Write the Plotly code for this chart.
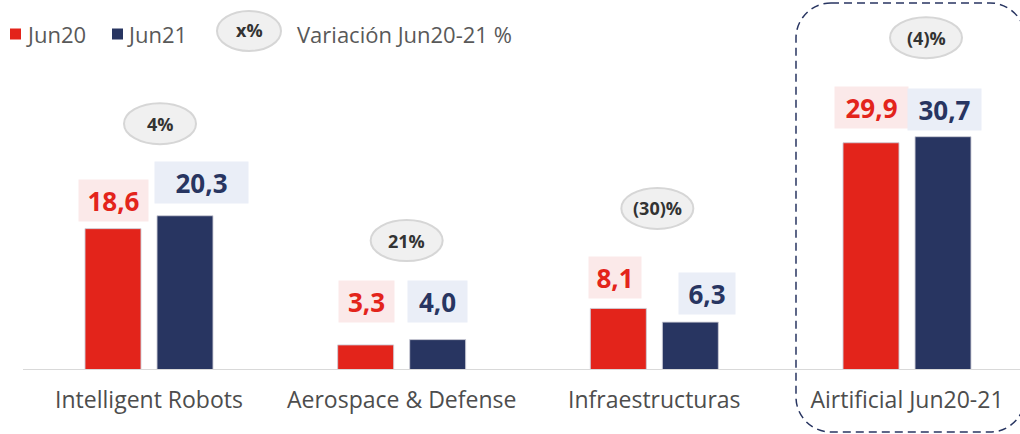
import plotly.graph_objects as go

# ---------------- data ----------------
categories = ["Intelligent Robots", "Aerospace & Defense", "Infraestructuras", "Airtificial Jun20-21"]
jun20 = [18.6, 3.3, 8.1, 29.9]
jun21 = [20.3, 4.0, 6.3, 30.7]
variation = ["4%", "21%", "(30)%", "(4)%"]
series_names = ["Jun20", "Jun21"]
legend_var_symbol = "x%"
legend_var_text = "Variación Jun20-21 %"

# ---------------- styles ----------------
RED = "#e3241b"
NAVY = "#283561"
RED_BG = "#fbe9e9"
NAVY_BG = "#eaeef7"
FONT = "Open Sans"
W, H = 1020, 434
M_L, M_R, M_T, M_B = 0, 0, 10, 64
PLOT_H = H - M_T - M_B

def fmt(v):
    return f"{v:.1f}".replace(".", ",")

def px(x):
    return (x - M_L) / (W - M_L - M_R)

def py(y):
    return (H - M_B - y) / PLOT_H

BAR_W = 0.2216
# label box placement (px shift from bar center / top), widths
red_dx = [0.5, 0.5, -3, 0.5]
red_dy = [28, 43.5, 31, 35.5]
red_bw = [69, 55, 52, 73]
navy_dx = [16.5, -0.5, 16.5, 1.5]
navy_dy = [33.5, 38.5, 29, 27.5]
navy_bw = [93, 59, 56, 73]
ell_dx = [11, 5, 3, 19]
ell_dy = [92, 99, 100, 99]

xs = list(range(len(categories)))

fig = go.Figure()
fig.add_trace(go.Bar(
    x=xs, y=jun20, name=series_names[0], width=BAR_W, offset=-0.2533,
    marker=dict(color=RED, line=dict(color="rgba(205,205,215,0.9)", width=1)),
    showlegend=False, hoverinfo="skip"))
fig.add_trace(go.Bar(
    x=xs, y=jun21, name=series_names[1], width=BAR_W, offset=0.0317,
    marker=dict(color=NAVY, line=dict(color="rgba(205,205,215,0.9)", width=1)),
    showlegend=False, hoverinfo="skip"))

annotations = []
shapes = []

bar_center_px = 36  # half distance between bar centers, px
for i in xs:
    # value labels
    annotations.append(dict(
        x=i, y=jun20[i], xref="x", yref="y", text=f"<b>{fmt(jun20[i])}</b>",
        showarrow=False, xshift=-bar_center_px + red_dx[i], yshift=red_dy[i],
        xanchor="center", yanchor="middle", width=red_bw[i], height=41,
        bgcolor=RED_BG, borderpad=0, font=dict(family=FONT, size=26, color=RED)))
    annotations.append(dict(
        x=i, y=jun21[i], xref="x", yref="y", text=f"<b>{fmt(jun21[i])}</b>",
        showarrow=False, xshift=bar_center_px + navy_dx[i], yshift=navy_dy[i],
        xanchor="center", yanchor="middle", width=navy_bw[i], height=41,
        bgcolor=NAVY_BG, borderpad=0, font=dict(family=FONT, size=26, color=NAVY)))
    # variation ellipses
    top = max(jun20[i], jun21[i])
    shapes.append(dict(
        type="circle", xref="x", yref="y", xsizemode="pixel", ysizemode="pixel",
        xanchor=i, yanchor=top, x0=ell_dx[i] - 36, x1=ell_dx[i] + 36,
        y0=ell_dy[i] - 20.5, y1=ell_dy[i] + 20.5,
        fillcolor="#f0f0f0", line=dict(color="#d6d6d6", width=2), layer="above"))
    annotations.append(dict(
        x=i, y=top, xref="x", yref="y", text=f"<b>{variation[i]}</b>",
        showarrow=False, xshift=ell_dx[i], yshift=ell_dy[i],
        xanchor="center", yanchor="middle",
        font=dict(family=FONT, size=18, color="#333333")))

# baseline
shapes.append(dict(type="line", xref="paper", yref="y", x0=px(23), x1=1, y0=0, y1=0,
                   line=dict(color="#d9d9d9", width=2), layer="above"))

# dashed rounded rectangle around last group (right side runs off the frame)
L, R, T, B, r = 796, 1025, 3, 432, 35
k = 0.5523 * r  # cubic approximation of a quarter circle
def P(x, y):
    return f"{px(x):.5f},{py(y):.5f}"
path = (f"M {P(L+r,T)} L {P(R-r,T)} "
        f"C {P(R-r+k,T)} {P(R,T+r-k)} {P(R,T+r)} "
        f"L {P(R,B-r)} "
        f"C {P(R,B-r+k)} {P(R-r+k,B)} {P(R-r,B)} "
        f"L {P(L+r,B)} "
        f"C {P(L+r-k,B)} {P(L,B-r+k)} {P(L,B-r)} "
        f"L {P(L,T+r)} "
        f"C {P(L,T+r-k)} {P(L+r-k,T)} {P(L+r,T)} Z")
shapes.append(dict(type="path", xref="paper", yref="paper", path=path,
                   line=dict(color=NAVY, width=1.5, dash="8px,5px")))

# manual legend
legend_y = 34
for (x0, col, name, tx) in [(10, RED, series_names[0], 24), (112, NAVY, series_names[1], 125)]:
    shapes.append(dict(type="rect", xref="paper", yref="paper",
                       x0=px(x0), x1=px(x0 + 11), y0=py(legend_y + 5.5), y1=py(legend_y - 5.5),
                       fillcolor=col, line=dict(width=0)))
    annotations.append(dict(x=px(tx), y=py(legend_y), xref="paper", yref="paper",
                            text=name, showarrow=False, xanchor="left", yanchor="middle",
                            font=dict(family=FONT, size=22, color="#595959")))
shapes.append(dict(type="circle", xref="paper", yref="paper",
                   x0=px(217), x1=px(281), y0=py(51), y1=py(11),
                   fillcolor="#f0f0f0", line=dict(color="#d6d6d6", width=2)))
annotations.append(dict(x=px(249), y=py(30), xref="paper", yref="paper",
                        text=f"<b>{legend_var_symbol}</b>", showarrow=False,
                        xanchor="center", yanchor="middle",
                        font=dict(family=FONT, size=18, color="#333333")))
annotations.append(dict(x=px(295), y=py(34), xref="paper", yref="paper",
                        text=legend_var_text, showarrow=False,
                        xanchor="left", yanchor="middle",
                        font=dict(family=FONT, size=22, color="#595959")))

fig.update_layout(
    width=W, height=H,
    margin=dict(l=M_L, r=M_R, t=M_T, b=M_B),
    paper_bgcolor="white", plot_bgcolor="white",
    barmode="overlay",
    xaxis=dict(range=[-0.5897, 3.4472], tickmode="array", tickvals=xs, ticktext=categories,
               showgrid=False, zeroline=False, showline=False,
               ticks="outside", ticklen=9, tickcolor="rgba(0,0,0,0)",
               tickfont=dict(family=FONT, size=23, color="#4d4d4d")),
    yaxis=dict(range=[0, PLOT_H / 7.6], visible=False, showgrid=False, zeroline=False),
    shapes=shapes, annotations=annotations,
)

fig.write_html("out.html", config={"displayModeBar": False},
               post_script="document.body.style.margin='0';")
